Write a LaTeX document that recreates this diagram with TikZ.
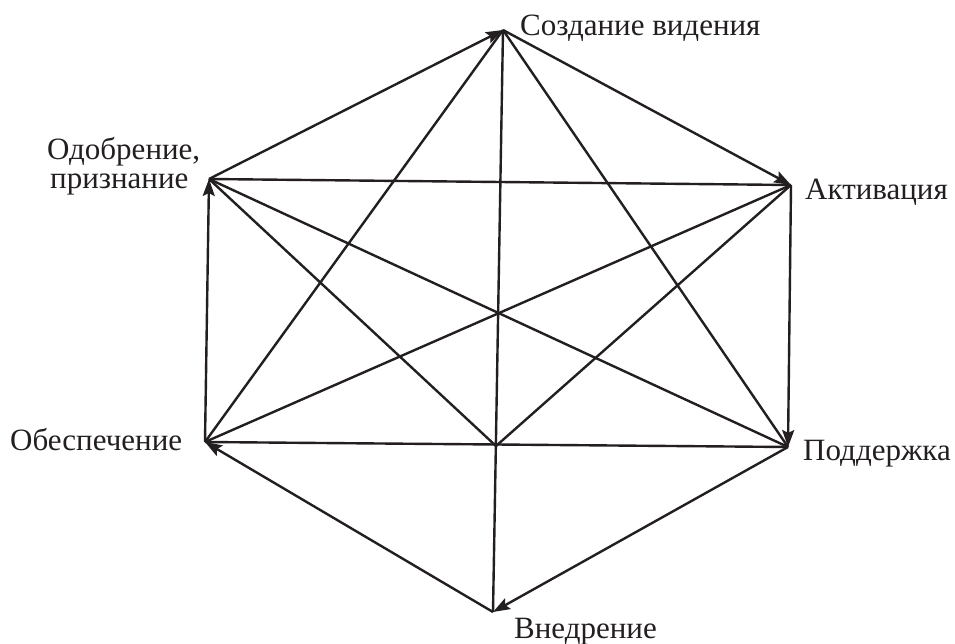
\documentclass[tikz,border=0pt]{standalone}
\usepackage{fontspec}
\setmainfont{Liberation Serif}
\usetikzlibrary{arrows.meta}
\definecolor{ink}{HTML}{231F20}
\begin{document}
\begin{tikzpicture}[x=1pt,y=-1pt,
  edge/.style={line width=2.4pt, draw=ink},
  arr/.style={edge, -{Stealth[length=17pt,width=12pt,inset=3pt]}},
  lbl/.style={anchor=base west, inner sep=0pt, font=\fontsize{31}{31}\selectfont, text=ink}]
\useasboundingbox (0,0) rectangle (955,644);
\fill[white] (0,0) rectangle (955,644);
% vertices
\coordinate (T) at (503,30);
\coordinate (A) at (791,185);
\coordinate (S) at (788,447);
\coordinate (B) at (493,612);
\coordinate (P) at (205,442);
\coordinate (O) at (209,179);
\coordinate (X) at (496,446);
% inner lines
\draw[edge] (T) -- (B);
\draw[edge] (O) -- (A);
\draw[edge] (P) -- (S);
\draw[edge] (T) -- (P);
\draw[edge] (T) -- (S);
\draw[edge] (O) -- (S);
\draw[edge] (A) -- (P);
\draw[edge] (O) -- (X);
\draw[edge] (A) -- (X);
% perimeter arrows
\draw[arr] (O) -- (T);
\draw[arr] (T) -- (A);
\draw[arr] (A) -- (S);
\draw[arr] (S) -- (B);
\draw[arr] (B) -- (P);
\draw[arr] (P) -- (O);
% labels
\node[lbl] (lT) at (520,36) {Создание видения};
\node[lbl] (lO1) at (47,160) {Одобрение,};
\node[lbl] (lO2) at (50,189) {признание};
\node[lbl] (lA) at (805,200) {Активация};
\node[lbl] (lS) at (803,460) {Поддержка};
\node[lbl] (lP) at (10,450) {Обеспечение};
\node[lbl] (lB) at (514,638) {Внедрение};
\end{tikzpicture}
\end{document}
